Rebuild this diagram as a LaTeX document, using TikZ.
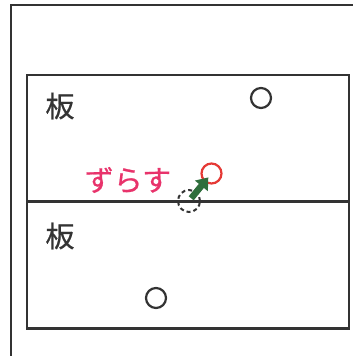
\documentclass[tikz,border=0pt]{standalone}
\usepackage{fontspec}
\setmainfont{Noto Sans CJK JP}[FakeBold=0.7]
\usetikzlibrary{arrows.meta}
\definecolor{linegray}{HTML}{333333}
\definecolor{shiftred}{HTML}{E8336B}
\definecolor{holered}{HTML}{E53935}
\definecolor{arrowgreen}{HTML}{2F6E3C}
\begin{document}
\begin{tikzpicture}[x = 1pt, y = -1pt, line width = 2.5pt,
board/.style = {draw = linegray, rectangle, minimum width = 322pt, minimum height = 127pt, inner sep = 0pt},
hole/.style = {circle, draw, line width = 2.2pt, minimum size = 20pt, inner sep = 0pt},
label/.style = {text = linegray, font = \fontsize{29pt}{29pt}\selectfont}]

\useasboundingbox (0, 0) rectangle (353, 356);

% Frame
\coordinate (f-1) at (11, 356);
\coordinate (f-2) at (11, 5);
\coordinate (f-3) at (353, 5);
\draw[linegray] (f-1) -- (f-2) -- (f-3);

\node[board] (b-1) at (188, 138.5) {};
\node[board] (b-2) at (188, 265) {};
\node[label] (l-1) at (60, 106) {板};
\node[label] (l-2) at (60, 236) {板};

\node[hole, draw = linegray] (h-1) at (261, 98) {};
\node[hole, draw = linegray] (h-2) at (156, 298) {};
\node[hole, draw = holered] (h-new) at (211.5, 173.5) {};
\node[hole, draw = linegray, dashed, line width = 2pt, minimum size = 22pt, dash pattern = on 4pt off 3pt] (h-old) at (189, 201) {};
\node[text = shiftred, font = \fontsize{29pt}{29pt}\selectfont] (s) at (128, 180) {ずらす};

% Shift arrow
\draw[-{Triangle[width = 16pt, length = 11pt]}, arrowgreen, line width = 6.5pt, shorten <= 3.5pt, shorten >= 5pt] (h-old.center) -- (h-new.center);

\end{tikzpicture}
\end{document}
